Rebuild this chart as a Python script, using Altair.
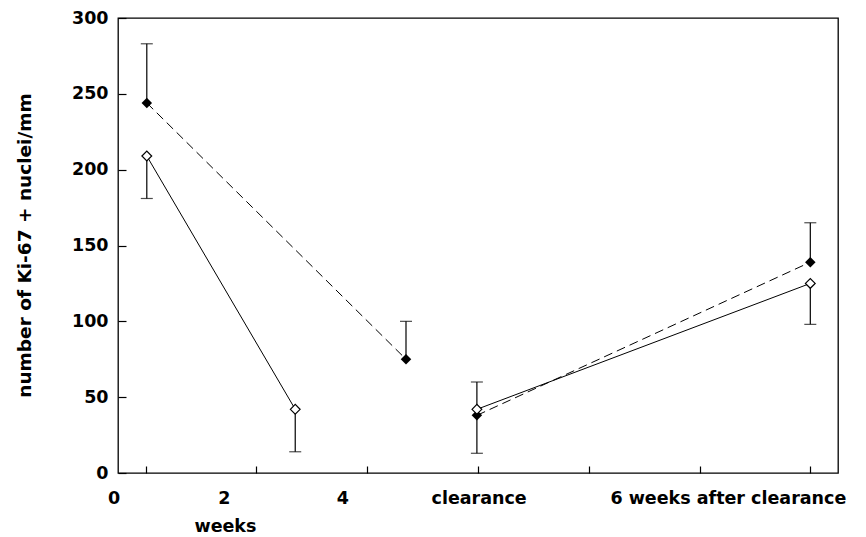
import altair as alt
import pandas as pd

# ---- data ----
filled_x = [0.26, 2.60, 3.24, 6.25]
filled_y = [244, 75, 38, 139]
filled_err = [283, 100, 13, 165]
filled_seg = ["before", "before", "after", "after"]

open_x = [0.26, 1.60, 3.24, 6.25]
open_y = [209, 42, 42, 125]
open_err = [181, 14, 60, 98]
open_seg = ["before", "before", "after", "after"]

x_tick_values = [0.25, 1.25, 2.25, 3.25, 4.25, 5.25, 6.25]
x_labels = ["0", "2", "4", "clearance", "6 weeks after clearance"]
x_label_pos = [-0.036, 0.96, 2.03, 3.26, 5.51]
x_subtitle = ["weeks"]
x_subtitle_pos = [0.97]
y_ticks = [0, 50, 100, 150, 200, 250, 300]
y_title = "number of Ki-67 + nuclei/mm"

FONT = "DejaVu Sans"

filled = pd.DataFrame({"x": filled_x, "y": filled_y, "err": filled_err, "seg": filled_seg})
opn = pd.DataFrame({"x": open_x, "y": open_y, "err": open_err, "seg": open_seg})
labels = pd.DataFrame({"x": x_label_pos, "t": x_labels})
sub = pd.DataFrame({"x": x_subtitle_pos, "t": x_subtitle})

xs = alt.Scale(domain=[0, 6.5], nice=False, zero=False)
ys = alt.Scale(domain=[0, 300], nice=False)

x_axis = alt.Axis(
    values=x_tick_values, labels=False, title=None, domain=False, grid=False,
    tickSize=7, offset=-7, tickColor="black", tickWidth=1.2)
y_axis = alt.Axis(
    values=y_ticks, title=y_title, domain=False, grid=False,
    tickSize=8, offset=-8, tickColor="black", tickWidth=1.2,
    labelPadding=10, labelFont=FONT, labelFontWeight="bold", labelFontSize=17.5,
    labelColor="black", titleFont=FONT, titleFontWeight="bold", titleFontSize=18.5,
    titleColor="black", titleX=-102, titleY=227, titleBaseline="middle",
    titleAngle=270)


def X(field="x"):
    return alt.X(f"{field}:Q", scale=xs, axis=x_axis)


def Y(field="y"):
    return alt.Y(f"{field}:Q", scale=ys, axis=y_axis, title=y_title)


line_f = alt.Chart(filled).mark_line(color="black", strokeWidth=1, strokeDash=[9, 5]).encode(
    x=X(), y=Y(), detail="seg:N")
line_o = alt.Chart(opn).mark_line(color="black", strokeWidth=1).encode(
    x=X(), y=Y(), detail="seg:N")

err_f = alt.Chart(filled).mark_rule(color="black", strokeWidth=1.2).encode(x=X(), y=Y(), y2="err:Q")
err_o = alt.Chart(opn).mark_rule(color="black", strokeWidth=1.2).encode(x=X(), y=Y(), y2="err:Q")
cap_f = alt.Chart(filled).mark_tick(color="black", orient="horizontal", size=12, thickness=1.2).encode(
    x=X(), y=Y("err"))
cap_o = alt.Chart(opn).mark_tick(color="black", orient="horizontal", size=12, thickness=1.2).encode(
    x=X(), y=Y("err"))

pt_f = alt.Chart(filled).mark_point(shape="diamond", size=110, filled=True, color="black", opacity=1).encode(
    x=X(), y=Y())
pt_o = alt.Chart(opn).mark_point(shape="diamond", size=95, fill="white", stroke="black",
                                 strokeWidth=1.2, opacity=1, fillOpacity=1).encode(x=X(), y=Y())

lab = alt.Chart(labels).mark_text(font=FONT, fontWeight="bold", fontSize=17.5, color="black",
                                  baseline="middle", align="center").encode(
    x=X(), y=alt.value(481), text="t:N")
sublab = alt.Chart(sub).mark_text(font=FONT, fontWeight="bold", fontSize=17.5, color="black",
                                  baseline="middle", align="center").encode(
    x=X(), y=alt.value(509), text="t:N")

chart = alt.layer(line_f, line_o, err_f, err_o, cap_f, cap_o, pt_f, pt_o, lab, sublab).properties(
    width=720, height=455,
    padding={"left": 110, "top": 10, "right": 20, "bottom": 63},
    autosize=alt.AutoSizeParams(type="none"),
    background="white",
).configure_view(stroke="black", strokeWidth=1.3)

chart.save("out.html", embed_options={"renderer": "svg", "actions": False})
